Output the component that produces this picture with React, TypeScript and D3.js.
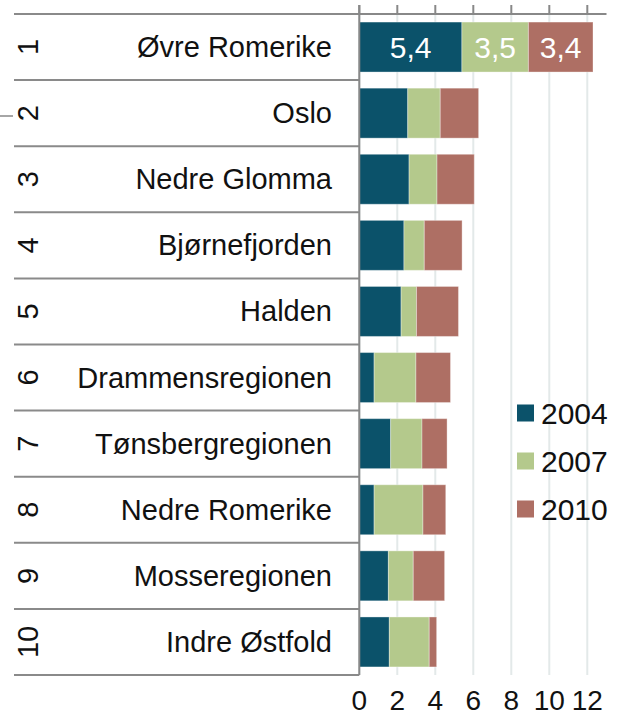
import React from "react";
import * as d3 from "d3";

const categories = [
  "Øvre Romerike",
  "Oslo",
  "Nedre Glomma",
  "Bjørnefjorden",
  "Halden",
  "Drammensregionen",
  "Tønsbergregionen",
  "Nedre Romerike",
  "Mosseregionen",
  "Indre Østfold",
];
const ranks = ["1", "2", "3", "4", "5", "6", "7", "8", "9", "10"];
const seriesNames = ["2004", "2007", "2010"];
const values2004 = [5.4, 2.55, 2.62, 2.35, 2.2, 0.78, 1.65, 0.78, 1.53, 1.58];
const values2007 = [3.5, 1.71, 1.47, 1.07, 0.81, 2.2, 1.65, 2.57, 1.31, 2.1];
const values2010 = [3.4, 2.02, 1.96, 1.99, 2.21, 1.82, 1.32, 1.2, 1.65, 0.39];
const xTicks = [0, 2, 4, 6, 8, 10, 12];
const labelledRow = 0;
const labelTexts = ["5,4", "3,5", "3,4"];
const colors = ["#0b526a", "#b4c98c", "#ae6f64"];

const W = 623;
const H = 717;
const FONT = "'Liberation Sans', Arial, Helvetica, sans-serif";

export default function App() {
  const x = d3.scaleLinear().domain([0, 13]).range([359.3, 606.3]);
  const top = 14;
  const bottom = 675;
  const y = d3
    .scaleBand<string>()
    .domain(categories)
    .range([top, bottom])
    .paddingInner(0.244)
    .paddingOuter(0.122);
  const step = y.step();
  const rows = categories.map((c, i) => ({
    cat: c,
    vals: [values2004[i], values2007[i], values2010[i]],
  }));
  const stack = d3
    .stack<any>()
    .keys(["0", "1", "2"])
    .value((d: any, k: string) => d.vals[+k]);
  const stacked = stack(rows as any);
  const axisX = x(0);

  return (
    <svg
      width={W}
      height={H}
      style={{ position: "absolute", left: 0, top: 0, background: "#fff" }}
      fontFamily={FONT}
    >
      {/* gridlines */}
      {xTicks.map((t) => (
        <line
          key={"g" + t}
          x1={x(t)}
          x2={x(t)}
          y1={top}
          y2={bottom}
          stroke="#e3e9e9"
          strokeWidth={2}
        />
      ))}
      {/* bars */}
      {stacked.map((layer, si) =>
        layer.map((d: any, i: number) => (
          <rect
            key={si + "-" + i}
            x={x(d[0])}
            y={y(categories[i])}
            width={x(d[1]) - x(d[0])}
            height={y.bandwidth()}
            fill={colors[si]}
            stroke="#ffffff"
            strokeOpacity={0.35}
            strokeWidth={1}
          />
        ))
      )}
      {/* data labels */}
      {stacked.map((layer, si) => {
        const d: any = layer[labelledRow];
        return (
          <text
            key={"dl" + si}
            x={(x(d[0]) + x(d[1])) / 2}
            y={(y(categories[labelledRow]) as number) + y.bandwidth() / 2 + 10.5}
            textAnchor="middle"
            fill="#fff"
            fontSize={30}
          >
            {labelTexts[si]}
          </text>
        );
      })}
      {/* top axis line */}
      <line x1={14} x2={606.5} y1={top} y2={top} stroke="#888" strokeWidth={2} />
      {/* top ticks */}
      {xTicks.map((t) => (
        <line
          key={"t" + t}
          x1={x(t)}
          x2={x(t)}
          y1={5}
          y2={top}
          stroke="#888"
          strokeWidth={2}
        />
      ))}
      {/* row separators */}
      {d3.range(categories.length + 1).map((i) => (
        <line
          key={"s" + i}
          x1={14}
          x2={axisX}
          y1={top + i * step}
          y2={top + i * step}
          stroke="#8a8a8a"
          strokeWidth={2}
        />
      ))}
      {/* left vertical axis */}
      <line x1={axisX} x2={axisX} y1={5} y2={bottom} stroke="#888" strokeWidth={2} />
      {/* stray short line */}
      <line x1={0} x2={13} y1={116} y2={116} stroke="#888" strokeWidth={1.5} />
      {/* category labels */}
      {categories.map((c) => (
        <text
          key={"c" + c}
          x={332}
          y={(y(c) as number) + y.bandwidth() / 2 + 10}
          textAnchor="end"
          fontSize={29}
          fill="#111"
        >
          {c}
        </text>
      ))}
      {/* rank labels */}
      {categories.map((c, i) => {
        const cy = (y(c) as number) + y.bandwidth() / 2;
        return (
          <text
            key={"r" + i}
            transform={`translate(${38},${cy}) rotate(-90)`}
            textAnchor="middle"
            fontSize={29}
            fill="#111"
          >
            {ranks[i]}
          </text>
        );
      })}
      {/* bottom tick labels */}
      {xTicks.map((t) => (
        <text
          key={"l" + t}
          x={x(t)}
          y={710}
          textAnchor="middle"
          fontSize={28}
          fill="#111"
        >
          {t}
        </text>
      ))}
      {/* legend */}
      {seriesNames.map((s, i) => {
        const cy = 413 + i * 48;
        return (
          <g key={"lg" + s}>
            <rect x={517} y={cy - 8.5} width={17} height={17} fill={colors[i]} />
            <text x={541} y={cy + 10.5} fontSize={30} fill="#111">
              {s}
            </text>
          </g>
        );
      })}
    </svg>
  );
}
